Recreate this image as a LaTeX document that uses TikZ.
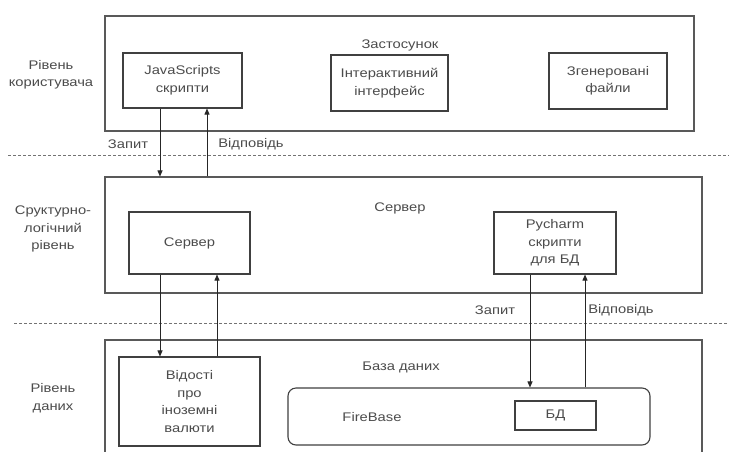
\documentclass[tikz,border=0pt]{standalone}
\usepackage{fontspec}
\setmainfont[FakeStretch=1.18]{Liberation Sans}
\usetikzlibrary{arrows.meta}
\begin{document}
\begin{tikzpicture}[x=1pt,y=-1pt,
  lbl/.style={text=black!70, font=\fontsize{12.5}{17.5}\selectfont, align=center, inner sep=0pt},
  box/.style={draw=black!75, line width=1.1pt, fill=white, inner sep=0pt, lbl},
  outer/.style={draw=black!65, line width=1.1pt, inner sep=0pt},
  arr/.style={draw=black!85, line width=0.9pt, -{Triangle[length=6pt,width=5pt]}},
  sep/.style={draw=black!55, line width=0.9pt, dash pattern=on 3pt off 2pt}]
\useasboundingbox[fill=white] (0,0) rectangle (729,451);

% separators
\coordinate (s1a) at (8,155); \coordinate (s1b) at (729,155);
\coordinate (s2a) at (14,323); \coordinate (s2b) at (729,323);
\draw[sep] (s1a) -- (s1b);
\draw[sep] (s2a) -- (s2b);

% top level
\node[outer, minimum width=589pt, minimum height=115pt] (app) at (399.5,73.5) {};
\node[lbl] (apptitle) at (400,45) {Застосунок};
\node[box, minimum width=119pt, minimum height=55pt] (js) at (182.5,80.5) {JavaScripts\\скрипти};
\node[box, minimum width=117pt, minimum height=56pt] (inter) at (389.5,83) {Інтерактивний\\інтерфейс};
\node[box, minimum width=118pt, minimum height=56pt] (gen) at (608,81) {Згенеровані\\файли};
\node[lbl] (l1) at (51,75) {Рівень\\користувача};

% middle level
\node[outer, minimum width=597pt, minimum height=116pt] (mid) at (403.5,235) {};
\node[lbl] (midtitle) at (400,208) {Сервер};
\node[box, minimum width=121pt, minimum height=62pt] (srv) at (189.5,243) {Сервер};
\node[box, minimum width=122pt, minimum height=62pt] (py) at (555,243) {Pycharm\\скрипти\\для БД};
\node[lbl] (l2) at (53,229) {Сруктурно-\\логічний\\рівень};

% bottom level
\coordinate (b1) at (105,460); \coordinate (b2) at (105,340);
\coordinate (b3) at (702,340); \coordinate (b4) at (702,460);
\draw[draw=black!65, line width=1.1pt] (b1) -- (b2) -- (b3) -- (b4);
\node[lbl] (dbtitle) at (401,367) {База даних};
\node[box, minimum width=141pt, minimum height=89pt] (vid) at (189.5,401.5) {Відості\\про\\іноземні\\валюти};
\node[box, rounded corners=8pt, minimum width=362pt, minimum height=57pt] (fire) at (469,416.5) {};
\node[lbl] (firetxt) at (372,417) {FireBase};
\node[box, minimum width=81pt, minimum height=29pt] (bd) at (555.5,415.5) {БД};
\node[lbl] (l3) at (53,398) {Рівень\\даних};

% arrows top
\draw[arr] (js.south -| 160,0) -- (mid.north -| 160,0);
\draw[arr] (mid.north -| 207,0) -- (js.south -| 207,0);
\node[lbl] (q1) at (128,144) {Запит};
\node[lbl] (a1) at (251,144) {Відповідь};

% arrows middle-left
\draw[arr] (srv.south -| 160,0) -- (vid.north -| 160,0);
\draw[arr] (vid.north -| 217,0) -- (srv.south -| 217,0);

% arrows middle-right
\draw[arr] (py.south -| 530,0) -- (fire.north -| 530,0);
\draw[arr] (fire.north -| 585,0) -- (py.south -| 585,0);
\node[lbl] (q2) at (495,310) {Запит};
\node[lbl] (a2) at (621,310) {Відповідь};
\end{tikzpicture}
\end{document}
